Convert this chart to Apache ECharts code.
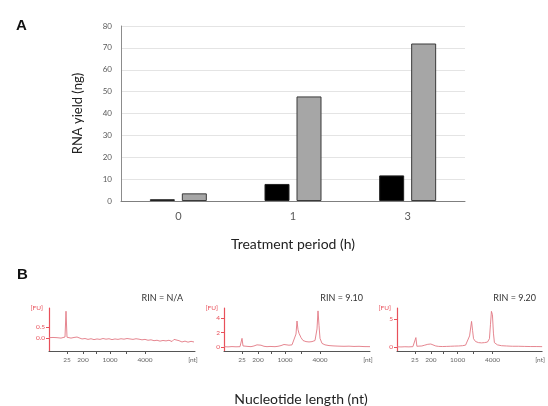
<!DOCTYPE html>
<html>
<head>
<meta charset="utf-8">
<script src="https://cdn.jsdelivr.net/npm/echarts@6/dist/echarts.min.js"></script>
<style>
  html, body { margin: 0; padding: 0; background: #fff; }
  #chart { width: 548px; height: 406px; }
</style>
</head>
<body>
<div id="chart"></div>
<script>
  // 面板 A：RNA 产量
  var periods = ['0', '1', '3'];
  var yieldBlack = [0.8, 7.8, 11.7];
  var yieldGray = [3.5, 47.8, 72.0];

  // 面板 B：电泳图 (x = 迁移位置, y = FU)
  var ladderPos = [18, 34, 47, 61, 77, 96];
  var ladderText = ['25', '200', '', '1000', '', '4000'];
  var rinText = ['RIN = N/A', 'RIN = 9.10', 'RIN = 9.20'];

  var traceNA = [[0,0.02],[2,0.0],[4,0.03],[6,-0.01],[8,0.02],[10,0.04],[12,0.0],[14,0.03],[16,0.05],[17,1.25],[18,0.04],
    [20,-0.03],[22,0.0],[25,0.03],[28,0.05],[30,0.0],[33,-0.04],[36,-0.02],[39,-0.06],[42,-0.03],[45,-0.07],[48,-0.04],
    [51,-0.06],[54,-0.02],[57,-0.05],[60,-0.03],[63,-0.07],[66,-0.04],[69,-0.06],[72,-0.03],[75,-0.05],[78,-0.02],
    [81,-0.04],[84,-0.06],[87,-0.03],[90,-0.05],[93,-0.08],[96,-0.06],[99,-0.1],[102,-0.08],[105,-0.12],[108,-0.1],
    [111,-0.14],[114,-0.11],[117,-0.13],[120,-0.1],[123,-0.16],[125,-0.06],[127,-0.15],[130,-0.12],[133,-0.18],
    [136,-0.14],[139,-0.19],[142,-0.15],[145,-0.18]];
  var trace910 = [[0,0.05],[4,0.02],[8,0.06],[12,0.03],[16,0.05],[17,0.1],[18,1.2],[19,0.15],[21,0.05],[24,0.08],[27,0.05],
    [30,0.15],[33,0.3],[35,0.4],[37,0.25],[40,0.1],[43,0.05],[46,0.08],[47,0.25],[48,0.08],[51,0.05],[54,0.1],[57,0.2],
    [60,0.35],[62,0.3],[65,0.25],[68,0.3],[70,0.5],[72,1.8],[73,3.6],[74,2.4],[75,1.9],[77,1.3],[79,0.9],[82,0.75],
    [85,0.7],[88,0.75],[91,0.9],[93,2.5],[94,5.0],[95,3.0],[96,1.2],[98,0.5],[101,0.3],[105,0.2],[110,0.15],[115,0.12],
    [120,0.1],[125,0.12],[130,0.08],[135,0.1],[140,0.06],[146,0.05]];
  var trace920 = [[0,0.05],[4,0.03],[8,0.06],[12,0.04],[16,0.08],[18,0.1],[19,1.7],[20,0.15],[22,0.1],[25,0.2],[28,0.35],
    [31,0.5],[34,0.55],[36,0.4],[39,0.2],[42,0.12],[46,0.1],[50,0.12],[54,0.15],[58,0.18],[62,0.2],[66,0.25],[69,0.35],
    [71,0.6],[73,2.0],[75,4.6],[76,3.0],[77,1.5],[79,1.0],[82,0.8],[85,0.75],[88,0.8],[91,0.9],[93,1.5],[94,4.0],
    [95,6.4],[96,5.8],[97,2.5],[98,0.8],[101,0.4],[105,0.25],[110,0.2],[116,0.15],[122,0.15],[128,0.12],[134,0.1],
    [140,0.1],[146,0.08]];

  var traces = [traceNA, trace910, trace920];
  var fuTicks = [[0, 0.5], [0, 2, 4], [0, 5]];
  var fuRange = [[-0.6, 1.4], [-0.55, 5.4], [-0.7, 7.0]];

  var chart = echarts.init(document.getElementById('chart'));
  var font = 'Lato, "Open Sans", sans-serif';
  var red = '#e8505a';

  var grids = [{ left: 121, right: 83, top: 26, bottom: 205 }];
  var gridLefts = [49, 224, 397];
  gridLefts.forEach(function (l) {
    grids.push({ left: l, width: 146, top: 308, bottom: 55 });
  });

  var xAxes = [{
    type: 'category', gridIndex: 0, data: periods,
    axisTick: { show: false },
    axisLine: { lineStyle: { color: '#7f7f7f' } },
    axisLabel: { color: '#595959', fontSize: 11, fontFamily: font, margin: 10 },
    name: 'Treatment period (h)', nameLocation: 'middle', nameGap: 36,
    nameTextStyle: { color: '#222', fontSize: 14, fontFamily: font }
  }];
  var yAxes = [{
    type: 'value', gridIndex: 0, min: 0, max: 80, interval: 10,
    axisLine: { show: true, lineStyle: { color: '#8c8c8c' } },
    axisTick: { show: false },
    axisLabel: { color: '#595959', fontSize: 8, fontFamily: font, margin: 9 },
    splitLine: { lineStyle: { color: '#e4e4e4' } },
    name: 'RNA yield (ng)', nameLocation: 'middle', nameGap: 37,
    nameTextStyle: { color: '#222', fontSize: 13, fontFamily: font }
  }];

  var labelVals = ladderPos.filter(function (p, i) { return ladderText[i] !== ''; }).concat([144]);
  for (var i = 0; i < 3; i++) {
    xAxes.push({
      type: 'value', gridIndex: i + 1, min: 0, max: 146,
      axisLine: { onZero: false, lineStyle: { color: '#555', width: 1 } },
      axisTick: { customValues: ladderPos, length: 3, lineStyle: { color: '#555' } },
      axisLabel: {
        customValues: labelVals, fontSize: 6.5, color: '#666', fontFamily: font, margin: 5,
        formatter: function (v) {
          var k = ladderPos.indexOf(v);
          return k >= 0 ? ladderText[k] : '[nt]';
        }
      },
      splitLine: { show: false }
    });
    yAxes.push({
      type: 'value', gridIndex: i + 1, min: fuRange[i][0], max: fuRange[i][1],
      axisLine: { show: true, lineStyle: { color: red, width: 1.2 } },
      axisTick: { show: true, customValues: fuTicks[i], length: 3, lineStyle: { color: red } },
      axisLabel: {
        customValues: fuTicks[i], fontSize: 6.5, color: red, fontFamily: font, margin: 4,
        formatter: (function (idx) {
          return function (v) { return idx === 0 ? v.toFixed(1) : String(v); };
        })(i)
      },
      splitLine: { show: false },
      name: '[FU]', nameLocation: 'end', nameGap: 0,
      nameTextStyle: { color: red, fontSize: 6.5, fontFamily: font, align: 'right', verticalAlign: 'middle', padding: [0, 6, 0, 0] }
    });
  }

  var series = [
    { type: 'bar', xAxisIndex: 0, yAxisIndex: 0, data: yieldBlack, barWidth: 25, barGap: '28%',
      itemStyle: { color: '#000', borderColor: '#222', borderWidth: 1 } },
    { type: 'bar', xAxisIndex: 0, yAxisIndex: 0, data: yieldGray, barWidth: 25, barGap: '28%',
      itemStyle: { color: '#a6a6a6', borderColor: '#3a3a3a', borderWidth: 1 } }
  ];
  traces.forEach(function (t, i) {
    series.push({
      type: 'line', xAxisIndex: i + 1, yAxisIndex: i + 1, data: t, symbol: 'none',
      lineStyle: { color: '#e27883', width: 0.9 }, animation: false
    });
  });

  var titles = [
    { text: 'A', left: 11, top: 13, textStyle: { fontSize: 15, fontWeight: 'bold', color: '#111', fontFamily: 'Liberation Sans, Arial' } },
    { text: 'B', left: 12, top: 262, textStyle: { fontSize: 15, fontWeight: 'bold', color: '#111', fontFamily: 'Liberation Sans, Arial' } },
    { text: 'Nucleotide length (nt)', left: 296, top: 387, textAlign: 'center',
      textStyle: { fontSize: 14, fontWeight: 'normal', color: '#222', fontFamily: font } }
  ];
  var rinRight = [360, 180, 7];
  rinText.forEach(function (t, i) {
    titles.push({ text: t, right: rinRight[i], top: 289,
      textStyle: { fontSize: 9, fontWeight: 'normal', color: '#333', fontFamily: font } });
  });

  chart.setOption({
    animation: false,
    title: titles,
    grid: grids,
    xAxis: xAxes,
    yAxis: yAxes,
    series: series
  });
</script>
</body>
</html>
